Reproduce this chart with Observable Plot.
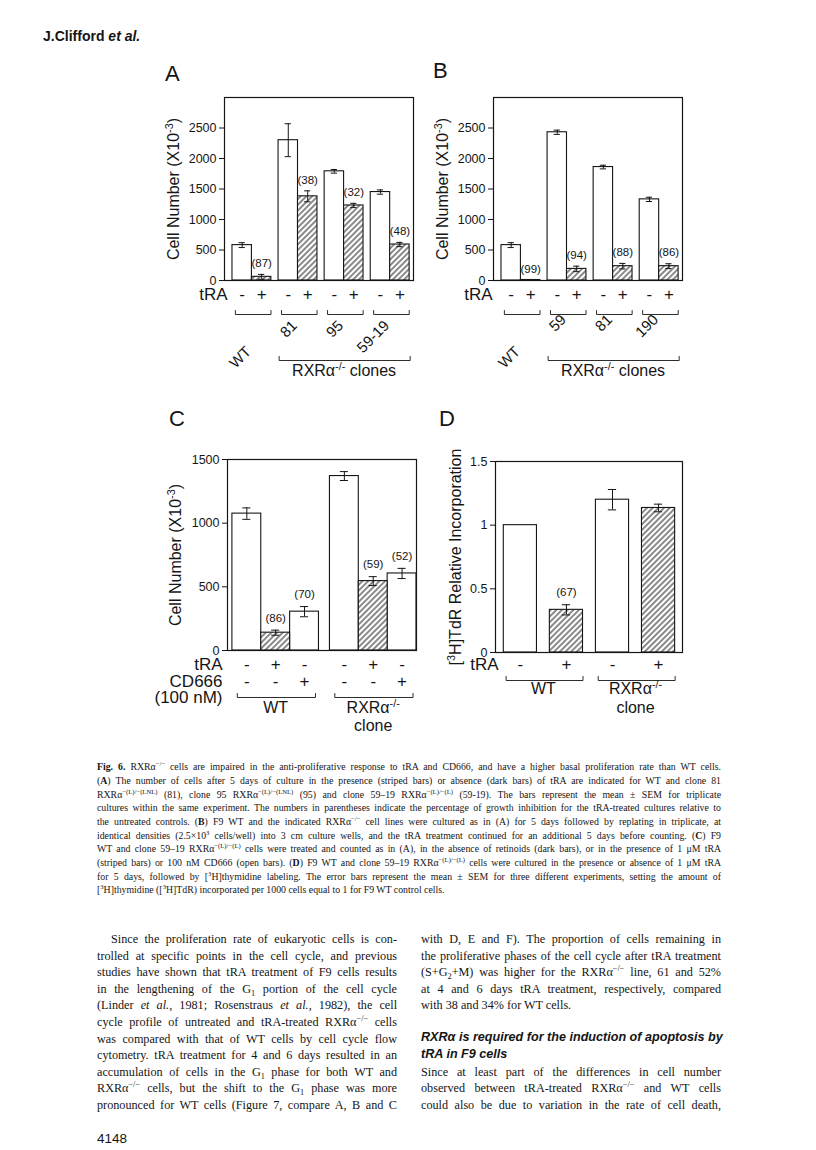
<!DOCTYPE html>
<html><head><meta charset="utf-8"><title>Fig. 6</title>
<script src="https://cdn.jsdelivr.net/npm/d3@7"></script>
<script src="https://cdn.jsdelivr.net/npm/@observablehq/plot@0.6"></script>
<style>
html,body{margin:0;padding:0;background:#fff;}
#page{position:relative;width:816px;height:1150px;overflow:hidden;background:#fff;color:#151515;font-family:"Liberation Sans",Arial,Helvetica,sans-serif;}
.abs{position:absolute;white-space:nowrap;line-height:1;}
.letter{font-size:22px;}
.serif{font-family:"Liberation Serif","Times New Roman",serif;}
.sans{font-family:"Liberation Sans",Arial,sans-serif;}
sup,sub{font-size:68%;line-height:0;}
.bi{font-weight:bold;font-style:italic;}
</style></head>
<body><div id="page">
<svg width="0" height="0" style="position:absolute;left:0;top:0"><defs>
<pattern id="hatch" patternUnits="userSpaceOnUse" width="4" height="4" patternTransform="rotate(45)">
<rect x="0" y="0" width="4" height="4" fill="#ffffff"/>
<line x1="2" y1="-1" x2="2" y2="5" stroke="#151515" stroke-width="1"/>
</pattern></defs></svg>
</div>
<script>
// ---------------- DATA ----------------
// Panel A: cell number (x10^-3) after 5 days, tRA - / +
const aClones = ["WT", "81", "95", "59-19"];
const tRA2 = ["-", "+"];
const aCells = [580, 60, 2300, 1380, 1790, 1230, 1450, 590];
const aSem = [40, 40, 270, 90, 30, 35, 35, 35];
const aInhib = ["(87)", "(38)", "(32)", "(48)"];
// Panel B
const bClones = ["WT", "59", "81", "190"];
const bCells = [580, 8, 2430, 190, 1860, 235, 1330, 235];
const bSem = [40, 0, 35, 45, 30, 45, 35, 40];
const bInhib = ["(99)", "(94)", "(88)", "(86)"];
const cellTicks = [0, 500, 1000, 1500, 2000, 2500];
const cellLabel = "Cell Number (X10⁻³)";
// Panel C
const cLines = ["WT", "RXRα⁻/⁻"];
const cLines2 = ["", "clone"];
const cTRA = ["-", "+", "-"];
const cCD666 = ["-", "-", "+"];
const cCells = [1075, 140, 305, 1370, 545, 605];
const cSem = [45, 20, 40, 35, 35, 40];
const cInhib = ["", "(86)", "(70)", "", "(59)", "(52)"];
const cTicks = [0, 500, 1000, 1500];
// Panel D
const dLines = ["WT", "RXRα⁻/⁻"];
const dLines2 = ["", "clone"];
const dTRA = ["-", "+"];
const dIncorp = [1.0, 0.335, 1.2, 1.135];
const dSem = [0, 0.04, 0.08, 0.03];
const dInhib = ["", "(67)", "", ""];
const dTicks = [0, 0.5, 1, 1.5];
const dLabel = "[³H]TdR Relative Incorporation";

// ---------------- HELPERS ----------------
const ink = "#151515";
const page = document.getElementById("page");
const baseStyle = {fontFamily: '"Liberation Sans", Arial, sans-serif', fontSize: "12.5px", color: ink, background: "transparent", overflow: "visible"};
const plain = d => String(d);

function put(el, left, top) {
  el.style.position = "absolute"; el.style.left = left + "px"; el.style.top = top + "px";
  page.appendChild(el);
}
function bracketPts(l, r, off, u, z) {
  return [{x: l, y: -(off - 4) * u, z}, {x: l, y: -off * u, z}, {x: r, y: -off * u, z}, {x: r, y: -(off - 4) * u, z}];
}
const SUP = {"⁻": "-", "³": "3"};
function supify(svg) {
  svg.querySelectorAll("text").forEach(t => {
    if (t.querySelector("tspan")) return;
    const s = t.textContent; const m = s.match(/[⁻³][⁻³\/]*/);
    if (!m) return;
    const pre = s.slice(0, m.index), sup = m[0].replace(/[⁻³]/g, c => SUP[c]), post = s.slice(m.index + m[0].length);
    t.textContent = "";
    t.append(pre);
    const ts = document.createElementNS("http://www.w3.org/2000/svg", "tspan");
    ts.setAttribute("baseline-shift", "super"); ts.setAttribute("font-size", "68%"); ts.textContent = sup;
    t.append(ts);
    if (post) t.append(post);
  });
  return svg;
}
function errMarks(eb, cap) {
  return [
    Plot.ruleX(eb, {x: "xc", y1: d => d.v - d.e, y2: d => d.v + d.e, stroke: ink, strokeWidth: 1}),
    Plot.ruleY(eb, {x1: d => d.xc - cap, x2: d => d.xc + cap, y: d => d.v + d.e, stroke: ink, strokeWidth: 1}),
    Plot.ruleY(eb, {x1: d => d.xc - cap, x2: d => d.xc + cap, y: d => d.v - d.e, stroke: ink, strokeWidth: 1})
  ];
}
function barMarks(bars) {
  return [
    Plot.rect(bars.filter(d => !d.hatch), {x1: "x1", x2: "x2", y1: 0, y2: "v", fill: "white", stroke: ink, strokeWidth: 1.1}),
    Plot.rect(bars.filter(d => d.hatch), {x1: "x1", x2: "x2", y1: 0, y2: "v", fill: "url(#hatch)", stroke: ink, strokeWidth: 1.1})
  ];
}
function yLabelMark(label, dx) {
  return Plot.text([label], {text: d => d, frameAnchor: "left", rotate: -90, textAnchor: "middle", dx, fontSize: 16, fill: ink});
}

// ---------------- PANELS A & B ----------------
function cellPanel(clones, cells, sem, inhib, o) {
  const gap = 0.37, step = 2 + gap;
  const bars = cells.map((v, i) => {
    const g = Math.floor(i / 2), k = i % 2, x1 = g * step + k;
    return {g, k, x1, x2: x1 + 1, xc: x1 + 0.5, v, e: sem[i], sign: tRA2[k], hatch: k === 1, inhib: k ? inhib[g] : ""};
  });
  const groups = clones.map((name, g) => ({name, l: g * step, r: g * step + 2, c: g * step + 1}));
  const innerH = 183, yMax = 3000, u = yMax / innerH;
  const brk = [];
  groups.forEach((gr, i) => brk.push(...bracketPts(gr.l + 0.15, gr.r - 0.02, 34, u, "g" + i)));
  brk.push(...bracketPts(groups[1].l + 0.03, groups[3].r + 0.03, 80, u, "all"));
  return supify(Plot.plot({
    width: 288, height: 330, marginLeft: 84, marginRight: 15, marginTop: 37, marginBottom: 110,
    style: baseStyle,
    x: {domain: [-0.41, 9.31], axis: null},
    y: {domain: [0, yMax], ticks: cellTicks, tickFormat: plain, tickSize: 5, tickPadding: 3, label: null},
    marks: [
      ...barMarks(bars),
      ...errMarks(bars.filter(d => d.e > 0), 0.16),
      Plot.text(bars.filter(d => d.inhib), {x: "xc", y: d => d.v + d.e, dy: -11, text: "inhib", fontSize: 11.5, fill: ink}),
      Plot.frame({stroke: ink, strokeWidth: 1.2}),
      Plot.text(bars, {x: "xc", text: "sign", frameAnchor: "bottom", dy: 19, fontSize: 17, fill: ink}),
      Plot.text(["tRA"], {text: d => d, frameAnchor: "bottom-left", textAnchor: "end", dx: o.tRAdx, dy: 19, fontSize: 17, fill: ink}),
      Plot.line(brk, {x: "x", y: "y", z: "z", stroke: ink, strokeWidth: 0.9}),
      Plot.text(groups.slice(1), {x: "c", text: "name", frameAnchor: "bottom", rotate: -45, textAnchor: "end", dy: o.numDy, fontSize: 15, fill: ink}),
      Plot.text(groups.slice(0, 1), {x: "c", text: "name", frameAnchor: "bottom", rotate: -45, textAnchor: "end", dy: 72, fontSize: 15, fill: ink}),
      Plot.text(["RXRα⁻/⁻ clones"], {x: () => (groups[1].l + groups[3].r) / 2, text: d => d, frameAnchor: "bottom", dy: 95, fontSize: 16, fill: ink}),
      yLabelMark(cellLabel, -51)
    ]
  }));
}

// ---------------- PANEL C ----------------
function cPanel() {
  const gap = 0.38, step = 3 + gap;
  const bars = cCells.map((v, i) => {
    const g = Math.floor(i / 3), k = i % 3, x1 = g * step + k;
    return {g, k, x1, x2: x1 + 1, xc: x1 + 0.5, v, e: cSem[i], tra: cTRA[k], cd: cCD666[k], hatch: cTRA[k] === "+", inhib: cInhib[i]};
  });
  const groups = cLines.map((name, g) => ({name, name2: cLines2[g], l: g * step, r: g * step + 3, c: g * step + 1.5}));
  const innerH = 191, yMax = 1500, u = yMax / innerH;
  const brk = [];
  groups.forEach((gr, i) => brk.push(...bracketPts(gr.l + 0.17, gr.r - 0.12, 47, u, "g" + i)));
  const rowLab = [{t: "tRA", dy: 19}, {t: "CD666", dy: 36}, {t: "(100 nM)", dy: 52}];
  return supify(Plot.plot({
    width: 288, height: 320, marginLeft: 84, marginRight: 15, marginTop: 29, marginBottom: 100,
    style: baseStyle,
    x: {domain: [-0.17, 6.38], axis: null},
    y: {domain: [0, yMax], ticks: cTicks, tickFormat: plain, tickSize: 5, tickPadding: 3, label: null},
    marks: [
      ...barMarks(bars),
      ...errMarks(bars.filter(d => d.e > 0), 0.14),
      Plot.text(bars.filter(d => d.inhib), {x: "xc", y: d => d.v + d.e, dy: -12, text: "inhib", fontSize: 11.5, fill: ink}),
      Plot.frame({stroke: ink, strokeWidth: 1.2}),
      Plot.text(bars, {x: "xc", text: "tra", frameAnchor: "bottom", dy: 19, fontSize: 17, fill: ink}),
      Plot.text(bars, {x: "xc", text: "cd", frameAnchor: "bottom", dy: 36, fontSize: 17, fill: ink}),
      ...rowLab.map(r => Plot.text([r.t], {text: d => d, frameAnchor: "bottom-left", textAnchor: "end", dx: -5, dy: r.dy, fontSize: 17, fill: ink})),
      Plot.line(brk, {x: "x", y: "y", z: "z", stroke: ink, strokeWidth: 0.9}),
      Plot.text(groups, {x: "c", text: "name", frameAnchor: "bottom", dy: 62, fontSize: 16, fill: ink}),
      Plot.text(groups.filter(d => d.name2), {x: "c", text: "name2", frameAnchor: "bottom", dy: 80, fontSize: 16, fill: ink}),
      yLabelMark(cellLabel, -52)
    ]
  }));
}

// ---------------- PANEL D ----------------
function dPanel() {
  const bars = dIncorp.map((v, i) => ({x1: i - 0.36, x2: i + 0.36, xc: i, v, e: dSem[i], sign: dTRA[i % 2], hatch: i % 2 === 1, inhib: dInhib[i]}));
  const groups = dLines.map((name, g) => ({name, name2: dLines2[g], l: 2 * g - 0.36, r: 2 * g + 1.36, c: 2 * g + 0.5}));
  const innerH = 191, yMax = 1.5, u = yMax / innerH;
  const brk = [];
  groups.forEach((gr, i) => brk.push(...bracketPts(gr.l + 0.05, gr.r, 28, u, "g" + i)));
  return supify(Plot.plot({
    width: 286, height: 312, marginLeft: 84, marginRight: 15, marginTop: 31, marginBottom: 90,
    style: baseStyle,
    x: {domain: [-0.54, 3.52], axis: null},
    y: {domain: [0, yMax], ticks: dTicks, tickFormat: plain, tickSize: 5, tickPadding: 3, label: null},
    marks: [
      ...barMarks(bars),
      ...errMarks(bars.filter(d => d.e > 0), 0.09),
      Plot.text(bars.filter(d => d.inhib), {x: "xc", y: d => d.v + d.e, dy: -12, text: "inhib", fontSize: 11.5, fill: ink}),
      Plot.frame({stroke: ink, strokeWidth: 1.2}),
      Plot.text(bars, {x: "xc", text: "sign", frameAnchor: "bottom", dy: 17, fontSize: 17, fill: ink}),
      Plot.text(["tRA"], {text: d => d, frameAnchor: "bottom-left", textAnchor: "end", dx: 3, dy: 17, fontSize: 17, fill: ink}),
      Plot.line(brk, {x: "x", y: "y", z: "z", stroke: ink, strokeWidth: 0.9}),
      Plot.text(groups, {x: "c", text: "name", frameAnchor: "bottom", dy: 41, fontSize: 16, fill: ink}),
      Plot.text(groups.filter(d => d.name2), {x: "c", text: "name2", frameAnchor: "bottom", dy: 60, fontSize: 16, fill: ink}),
      yLabelMark(dLabel, -40)
    ]
  }));
}

put(cellPanel(aClones, aCells, aSem, aInhib, {tRAdx: 3, numDy: 46}), 140, 60);
put(cellPanel(bClones, bCells, bSem, bInhib, {tRAdx: -1, numDy: 40}), 409, 60);
put(cPanel(), 143, 430);
put(dPanel(), 411, 430);

// ---------------- PAGE TEXT ----------------
function addText(html, x, y, size, cls) {
  const el = document.createElement("div");
  el.className = "abs " + (cls || "");
  el.innerHTML = html;
  el.style.fontSize = size + "px";
  el.style.left = x + "px";
  el.style.top = (y - size / 2) + "px";
  page.appendChild(el);
  return el;
}
function justify(el, w) {
  const nat = el.getBoundingClientRect().width;
  const spaces = (el.textContent.match(/ /g) || []).length;
  if (spaces) el.style.wordSpacing = ((w - nat) / spaces) + "px";
}
// letters & header
[["A", 165, 74], ["B", 433, 71], ["C", 169, 419], ["D", 439, 419]].forEach(([t, x, y]) => addText(t, x, y, 22, "letter"));
addText('<b>J.Clifford <i>et al.</i></b>', 43, 36, 14, "sans");

const capLines = [
  '<b>Fig. 6.</b> RXRα<sup>−/−</sup> cells are impaired in the anti-proliferative response to tRA and CD666, and have a higher basal proliferation rate than WT cells.',
  '(<b>A</b>) The number of cells after 5 days of culture in the presence (striped bars) or absence (dark bars) of tRA are indicated for WT and clone 81',
  'RXRα<sup>−(L)/−(LNL)</sup> (81), clone 95 RXRα<sup>−(L)/−(LNL)</sup> (95) and clone 59–19 RXRα<sup>−(L)/−(L)</sup> (59-19). The bars represent the mean ± SEM for triplicate',
  'cultures within the same experiment. The numbers in parentheses indicate the percentage of growth inhibition for the tRA-treated cultures relative to',
  'the untreated controls. (<b>B</b>) F9 WT and the indicated RXRα<sup>−/−</sup> cell lines were cultured as in (A) for 5 days followed by replating in triplicate, at',
  'identical densities (2.5×10<sup>3</sup> cells/well) into 3 cm culture wells, and the tRA treatment continued for an additional 5 days before counting. (<b>C</b>) F9',
  'WT and clone 59–19 RXRα<sup>−(L)/−(L)</sup> cells were treated and counted as in (A), in the absence of retinoids (dark bars), or in the presence of 1 μM tRA',
  '(striped bars) or 100 nM CD666 (open bars). (<b>D</b>) F9 WT and clone 59–19 RXRα<sup>−(L)/−(L)</sup> cells were cultured in the presence or absence of 1 μM tRA',
  'for 5 days, followed by [<sup>3</sup>H]thymidine labeling. The error bars represent the mean ± SEM for three different experiments, setting the amount of',
  '[<sup>3</sup>H]thymidine ([<sup>3</sup>H]TdR) incorporated per 1000 cells equal to 1 for F9 WT control cells.'
];
const left0 = 97, textW = 624, colW = 300, col2 = 421;
capLines.forEach((h, i) => {
  const el = addText(h, left0, 767 + i * 13.7, 9.8, "serif");
  if (i < capLines.length - 1) justify(el, textW);
});

const leftCol = [
  'Since the proliferation rate of eukaryotic cells is con-',
  'trolled at specific points in the cell cycle, and previous',
  'studies have shown that tRA treatment of F9 cells results',
  'in the lengthening of the G<sub>1</sub> portion of the cell cycle',
  '(Linder <i>et al.</i>, 1981; Rosenstraus <i>et al.</i>, 1982), the cell',
  'cycle profile of untreated and tRA-treated RXRα<sup>−/−</sup> cells',
  'was compared with that of WT cells by cell cycle flow',
  'cytometry. tRA treatment for 4 and 6 days resulted in an',
  'accumulation of cells in the G<sub>1</sub> phase for both WT and',
  'RXRα<sup>−/−</sup> cells, but the shift to the G<sub>1</sub> phase was more',
  'pronounced for WT cells (Figure 7, compare A, B and C'
];
const bodyY0 = 939, bodyStep = 16.6, bodySize = 12.2;
leftCol.forEach((h, i) => {
  const ind = i === 0 ? 14 : 0;
  const el = addText(h, left0 + ind, bodyY0 + i * bodyStep, bodySize, "serif");
  justify(el, colW - ind);
});
const rightCol = [
  ['with D, E and F). The proportion of cells remaining in', 0, true],
  ['the proliferative phases of the cell cycle after tRA treatment', 1, true],
  ['(S+G<sub>2</sub>+M) was higher for the RXRα<sup>−/−</sup> line, 61 and 52%', 2, true],
  ['at 4 and 6 days tRA treatment, respectively, compared', 3, true],
  ['with 38 and 34% for WT cells.', 4, false],
  ['Since at least part of the differences in cell number', 8, true],
  ['observed between tRA-treated RXRα<sup>−/−</sup> and WT cells', 9, true],
  ['could also be due to variation in the rate of cell death,', 10, true]
];
rightCol.forEach(([h, n, j]) => {
  const el = addText(h, col2, bodyY0 + n * bodyStep, bodySize, "serif");
  if (j) justify(el, colW);
});
addText('RXRα is required for the induction of apoptosis by', col2, bodyY0 + 5.95 * bodyStep, 12.6, "sans bi");
addText('tRA in F9 cells', col2, bodyY0 + 6.92 * bodyStep, 12.6, "sans bi");
addText('4148', left0, 1139, 13.5, "sans");
</script>
</body></html>
